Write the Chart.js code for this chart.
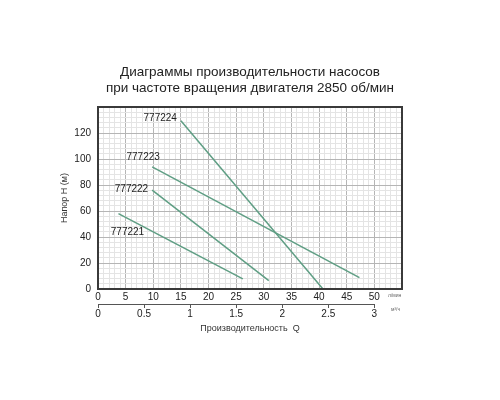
<!DOCTYPE html>
<html>
<head>
<meta charset="utf-8">
<script src="https://cdn.jsdelivr.net/npm/chart.js@4/dist/chart.umd.min.js"></script>
<style>
  html, body { margin: 0; padding: 0; background: #fff; }
  #wrap { width: 500px; height: 400px; }
</style>
</head>
<body>
<div id="wrap"><canvas id="c" width="500" height="400"></canvas></div>
<script>
// pump models and their Q-H lines (flow in l/min, head in m)
var models = ['777221', '777222', '777223', '777224'];
var flowStart = [3.7, 9.8, 9.8, 15];
var headStart = [58, 76, 94, 129.5];
var flowEnd = [26.2, 30.9, 47.3, 40.7];
var headEnd = [7.8, 6.4, 8.8, 0];

var headTicks = [0, 20, 40, 60, 80, 100, 120];
var flowTicks = [0, 5, 10, 15, 20, 25, 30, 35, 40, 45, 50];
var cubicTicks = [0, 0.5, 1, 1.5, 2, 2.5, 3];

var LINE_COLOR = '#5f9e84';
var FRAME = '#3a3a3a';
var FONT = "'Liberation Sans', Arial, sans-serif";
var NARROW = "'Liberation Sans Narrow', 'Arial Narrow', " + FONT;

// where the model names sit relative to the start of each line (px)
var labelOffset = [
  { dx: 9, dy: 19, align: 'center' },
  { dx: -4, dy: -1, align: 'right' },
  { dx: -9, dy: -10, align: 'center' },
  { dx: -4, dy: -2, align: 'right' }
];

function gridColor(ctx, major) {
  var v = ctx.tick ? ctx.tick.value : 0;
  return Math.abs(v / major - Math.round(v / major)) < 1e-6 ? '#b5b5b5' : '#e4e4e4';
}

var datasets = models.map(function(m, i) {
  return {
    label: m,
    data: [{ x: flowStart[i], y: headStart[i] }, { x: flowEnd[i], y: headEnd[i] }],
    borderColor: LINE_COLOR,
    borderWidth: 1.5,
    pointRadius: 0,
    fill: false,
    tension: 0,
    xAxisID: 'x',
    yAxisID: 'y'
  };
});

var extras = {
  id: 'extras',
  afterDatasetsDraw: function(chart) {
    var c = chart.ctx, a = chart.chartArea;
    var x = chart.scales.x, y = chart.scales.y, x2 = chart.scales.x2;
    c.save();
    // frame
    c.strokeStyle = FRAME;
    c.lineWidth = 2;
    c.strokeRect(a.left, a.top, a.right - a.left, a.bottom - a.top);
    // model names
    c.fillStyle = '#222';
    c.font = '10px ' + FONT;
    c.textBaseline = 'middle';
    models.forEach(function(m, i) {
      var o = labelOffset[i];
      c.textAlign = o.align;
      c.fillText(m, x.getPixelForValue(flowStart[i]) + o.dx, y.getPixelForValue(headStart[i]) + o.dy);
    });
    // second axis line, from 0 to 3 m3/h
    c.strokeStyle = '#555';
    c.lineWidth = 1;
    c.beginPath();
    c.moveTo(x2.getPixelForValue(cubicTicks[0]), x2.top + 0.5);
    c.lineTo(x2.getPixelForValue(cubicTicks[cubicTicks.length - 1]), x2.top + 0.5);
    c.stroke();
    // units
    c.fillStyle = '#666';
    c.font = '5px ' + FONT;
    c.textAlign = 'left';
    c.fillText('л/мин', a.right - 14, x.top + 7);
    c.fillText('м³/ч', a.right - 11, x2.top + 6);
    c.restore();
  }
};

new Chart(document.getElementById('c'), {
  type: 'line',
  data: { datasets: datasets },
  options: {
    responsive: false,
    animation: false,
    layout: { padding: { left: 54, right: 98, top: 64, bottom: 50 } },
    plugins: {
      legend: { display: false },
      tooltip: { enabled: false },
      title: {
        display: true,
        fullSize: false,
        text: ['Диаграммы производительности насосов', 'при частоте вращения двигателя 2850 об/мин'],
        color: '#222',
        font: { family: NARROW, size: 13.5, weight: 'normal', lineHeight: 16 / 13.5 },
        padding: { top: 0, bottom: 11 }
      }
    },
    scales: {
      x: {
        type: 'linear',
        position: 'bottom',
        weight: 0,
        min: 0,
        max: 55,
        afterFit: function(s) { s.height = 15; },
        ticks: {
          stepSize: 1,
          autoSkip: false,
          maxRotation: 0,
          includeBounds: false,
          padding: 2,
          color: '#222',
          font: { family: FONT, size: 10 },
          callback: function(v) { return flowTicks.indexOf(v) >= 0 ? String(v) : ''; }
        },
        grid: {
          drawTicks: false,
          lineWidth: 1,
          color: function(ctx) { return gridColor(ctx, 5); }
        },
        border: { display: false }
      },
      x2: {
        type: 'linear',
        position: 'bottom',
        weight: 1,
        min: 0,
        max: 3.3,
        afterFit: function(s) { s.height = 46; },
        ticks: {
          stepSize: 0.5,
          autoSkip: false,
          maxRotation: 0,
          includeBounds: false,
          padding: 0,
          color: '#222',
          font: { family: FONT, size: 10 },
          callback: function(v) { return cubicTicks.indexOf(v) >= 0 ? String(v) : ''; }
        },
        grid: {
          drawOnChartArea: false,
          drawTicks: true,
          tickLength: 4,
          color: '#555'
        },
        border: { display: false },
        title: {
          display: true,
          text: 'Производительность  Q',
          color: '#333',
          font: { family: NARROW, size: 9 },
          padding: { top: 0, bottom: 15.6 }
        }
      },
      y: {
        type: 'linear',
        min: 0,
        max: 140,
        afterFit: function(s) { s.width = 44; },
        ticks: {
          stepSize: 4,
          autoSkip: false,
          padding: 7,
          color: '#222',
          font: { family: FONT, size: 10 },
          callback: function(v) { return headTicks.indexOf(v) >= 0 ? String(v) : ''; }
        },
        grid: {
          drawTicks: false,
          lineWidth: 1,
          color: function(ctx) { return gridColor(ctx, 20); }
        },
        border: { display: false },
        title: {
          display: true,
          text: 'Напор H (м)',
          color: '#333',
          font: { family: FONT, size: 9 },
          padding: { top: 5, bottom: 0 }
        }
      }
    }
  },
  plugins: [extras]
});
</script>
</body>
</html>
